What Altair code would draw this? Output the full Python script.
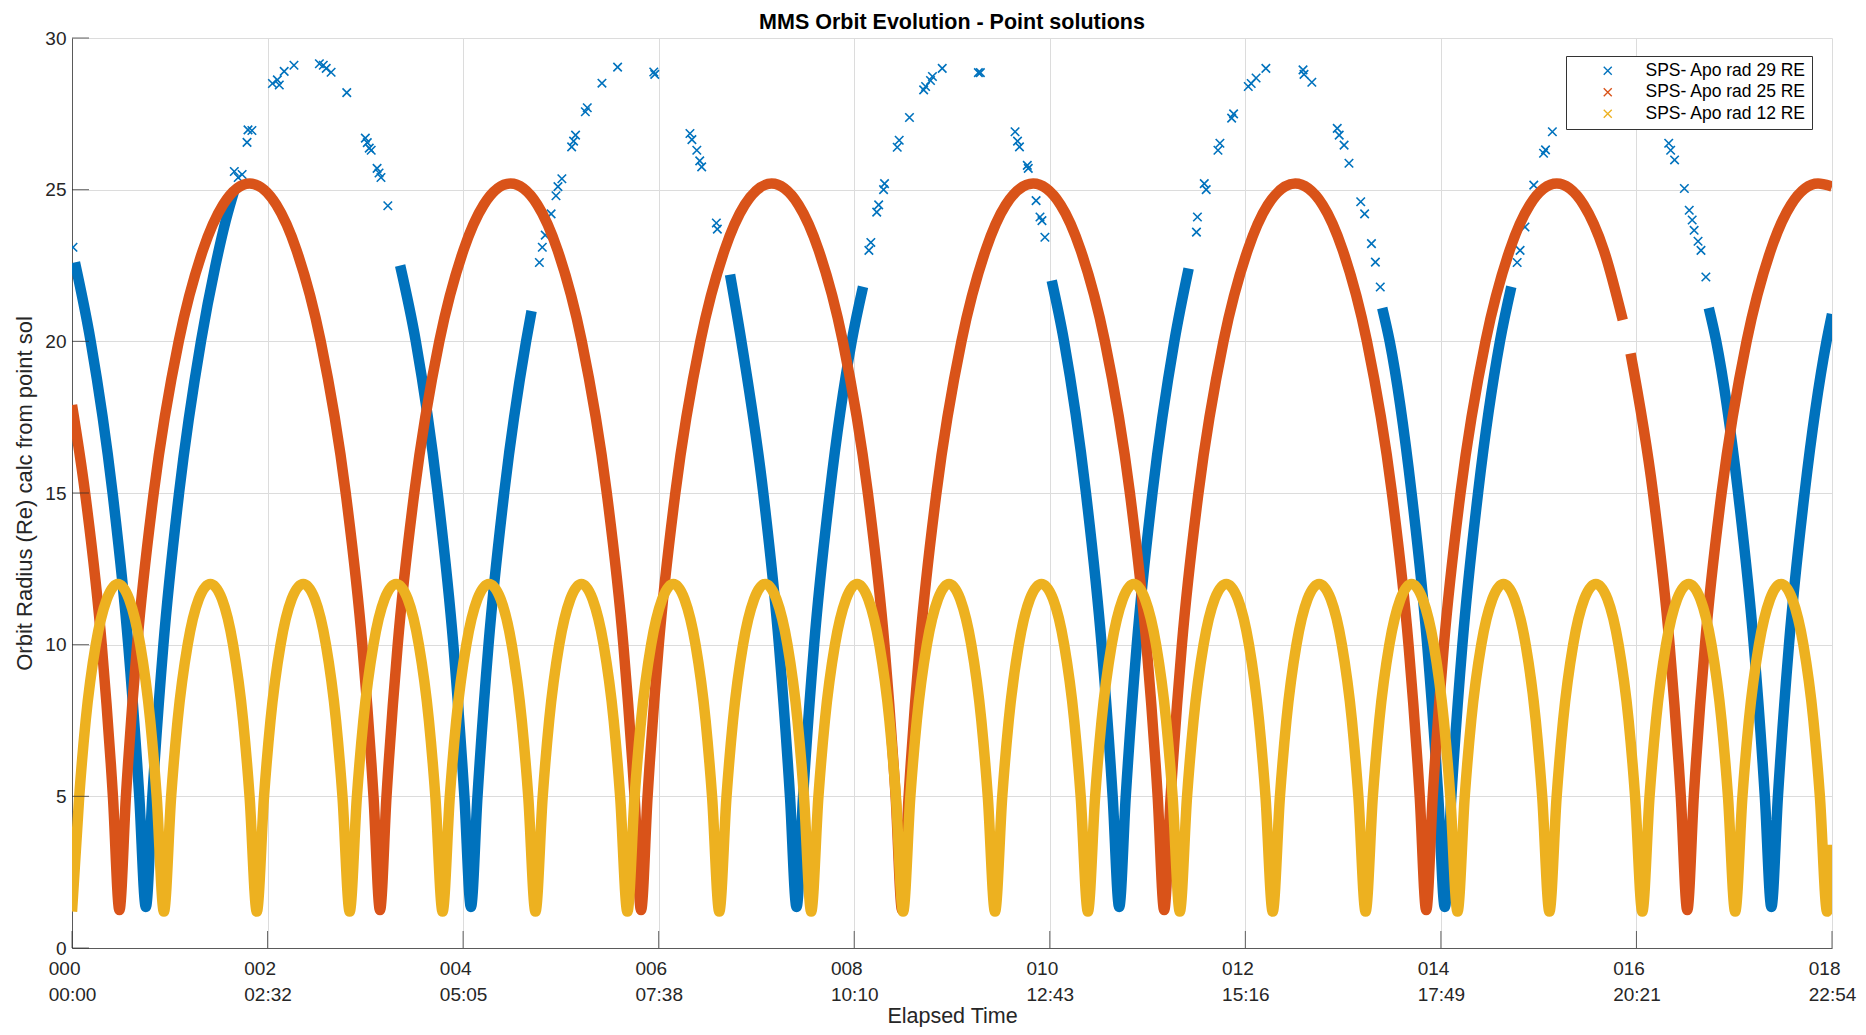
import altair as alt
import pandas as pd

FONT = "Liberation Sans"

SERIES = ["SPS- Apo rad 29 RE", "SPS- Apo rad 25 RE", "SPS- Apo rad 12 RE"]
COLORS = ["#0072BD", "#D95319", "#EDB120"]

XTICKS = [0, 2, 4, 6, 8, 10, 12, 14, 16, 18]
XTICK_ORBIT = ["000", "002", "004", "006", "008", "010", "012", "014", "016", "018"]
XTICK_TIME = ["00:00", "02:32", "05:05", "07:38", "10:10", "12:43", "15:16", "17:49", "20:21", "22:54"]
YTICKS = [0, 5, 10, 15, 20, 25, 30]

# ---- 12 RE apogee orbit (yellow) ----
YEL_X = [
    0.000, 0.074, 0.140, 0.243, 0.356, 0.470, 0.584, 0.697, 0.800, 0.866,
    0.940, 1.014, 1.080, 1.183, 1.296, 1.415, 1.534, 1.647, 1.750, 1.816,
    1.890, 1.964, 2.030, 2.133, 2.246, 2.365, 2.484, 2.597, 2.700, 2.766,
    2.840, 2.914, 2.980, 3.083, 3.196, 3.315, 3.434, 3.547, 3.650, 3.716,
    3.790, 3.864, 3.930, 4.033, 4.146, 4.265, 4.384, 4.497, 4.600, 4.666,
    4.740, 4.814, 4.880, 4.983, 5.096, 5.210, 5.324, 5.437, 5.540, 5.606,
    5.680, 5.754, 5.820, 5.923, 6.036, 6.150, 6.264, 6.377, 6.480, 6.546,
    6.620, 6.694, 6.760, 6.863, 6.976, 7.090, 7.204, 7.317, 7.420, 7.486,
    7.560, 7.634, 7.700, 7.803, 7.916, 8.030, 8.144, 8.257, 8.360, 8.426,
    8.500, 8.574, 8.640, 8.743, 8.856, 8.970, 9.084, 9.197, 9.300, 9.366,
    9.440, 9.514, 9.580, 9.683, 9.796, 9.915, 10.034, 10.147, 10.250, 10.316,
    10.390, 10.464, 10.530, 10.633, 10.746, 10.860, 10.974, 11.087, 11.190, 11.256,
    11.330, 11.404, 11.470, 11.573, 11.686, 11.805, 11.924, 12.037, 12.140, 12.206,
    12.280, 12.354, 12.420, 12.523, 12.636, 12.755, 12.874, 12.987, 13.090, 13.156,
    13.230, 13.304, 13.370, 13.473, 13.586, 13.700, 13.814, 13.927, 14.030, 14.096,
    14.170, 14.244, 14.310, 14.413, 14.526, 14.640, 14.754, 14.867, 14.970, 15.036,
    15.110, 15.184, 15.250, 15.353, 15.466, 15.585, 15.704, 15.817, 15.920, 15.986,
    16.060, 16.134, 16.200, 16.303, 16.416, 16.535, 16.654, 16.767, 16.870, 16.936,
    17.010, 17.084, 17.150, 17.253, 17.366, 17.480, 17.594, 17.707, 17.810, 17.876,
    17.950, 18.000,
]
YEL_Y = [
    1.2, 5, 7.5, 10, 11.5, 12, 11.5, 10, 7.5, 5,
    1.2, 5, 7.5, 10, 11.5, 12, 11.5, 10, 7.5, 5,
    1.2, 5, 7.5, 10, 11.5, 12, 11.5, 10, 7.5, 5,
    1.2, 5, 7.5, 10, 11.5, 12, 11.5, 10, 7.5, 5,
    1.2, 5, 7.5, 10, 11.5, 12, 11.5, 10, 7.5, 5,
    1.2, 5, 7.5, 10, 11.5, 12, 11.5, 10, 7.5, 5,
    1.2, 5, 7.5, 10, 11.5, 12, 11.5, 10, 7.5, 5,
    1.2, 5, 7.5, 10, 11.5, 12, 11.5, 10, 7.5, 5,
    1.2, 5, 7.5, 10, 11.5, 12, 11.5, 10, 7.5, 5,
    1.2, 5, 7.5, 10, 11.5, 12, 11.5, 10, 7.5, 5,
    1.2, 5, 7.5, 10, 11.5, 12, 11.5, 10, 7.5, 5,
    1.2, 5, 7.5, 10, 11.5, 12, 11.5, 10, 7.5, 5,
    1.2, 5, 7.5, 10, 11.5, 12, 11.5, 10, 7.5, 5,
    1.2, 5, 7.5, 10, 11.5, 12, 11.5, 10, 7.5, 5,
    1.2, 5, 7.5, 10, 11.5, 12, 11.5, 10, 7.5, 5,
    1.2, 5, 7.5, 10, 11.5, 12, 11.5, 10, 7.5, 5,
    1.2, 5, 7.5, 10, 11.5, 12, 11.5, 10, 7.5, 5,
    1.2, 5, 7.5, 10, 11.5, 12, 11.5, 10, 7.5, 5,
    1.2, 5, 7.5, 10, 11.5, 12, 11.5, 10, 7.5, 5,
    1.2, 3.4,
]

# ---- 25 RE apogee orbit (orange), two dense runs ----
ORG1_X = [
    0.000, 0.134, 0.304, 0.4185, 0.485,
    0.5515, 0.6662, 0.8356, 1.0915, 1.3382, 1.5449, 1.8175, 2.0901, 2.2968, 2.5435, 2.7994, 2.9688, 3.0835, 3.150,
    3.2165, 3.3312, 3.5006, 3.7565, 4.0032, 4.2099, 4.485, 4.7601, 4.9668, 5.2135, 5.4694, 5.6388, 5.7535, 5.820,
    5.8865, 6.0012, 6.1706, 6.4265, 6.6732, 6.8799, 7.155, 7.4301, 7.6368, 7.8835, 8.1394, 8.3088, 8.4235, 8.490,
    8.5565, 8.6712, 8.8406, 9.0965, 9.3432, 9.5499, 9.830, 10.1101, 10.3168, 10.5635, 10.8194, 10.9888, 11.1035, 11.170,
    11.2365, 11.3512, 11.5206, 11.7765, 12.0232, 12.2299, 12.510, 12.7901, 12.9968, 13.2435, 13.4994, 13.6688, 13.7835, 13.850,
    13.9165, 14.0312, 14.2006, 14.4565, 14.7032, 14.9099, 15.185, 15.4601, 15.6668, 15.860,
]
ORG1_Y = [
    17.9, 15, 10, 5, 1.25,
    5, 10, 15, 20, 23, 24.5, 25.2, 24.5, 23, 20, 15, 10, 5, 1.25,
    5, 10, 15, 20, 23, 24.5, 25.2, 24.5, 23, 20, 15, 10, 5, 1.25,
    5, 10, 15, 20, 23, 24.5, 25.2, 24.5, 23, 20, 15, 10, 5, 1.25,
    5, 10, 15, 20, 23, 24.5, 25.2, 24.5, 23, 20, 15, 10, 5, 1.25,
    5, 10, 15, 20, 23, 24.5, 25.2, 24.5, 23, 20, 15, 10, 5, 1.25,
    5, 10, 15, 20, 23, 24.5, 25.2, 24.5, 23, 20.7,
]
ORG2_X = [15.94, 16.1694, 16.3388, 16.4535, 16.520, 16.5865, 16.7012, 16.8706, 17.1265, 17.3732, 17.5799, 17.857, 18.0]
ORG2_Y = [19.6, 15, 10, 5, 1.25, 5, 10, 15, 20, 23, 24.5, 25.2, 25.1]

# ---- 29 RE apogee orbit (blue), dense runs ----
BLU1_X = [0.030, 0.191, 0.415, 0.575, 0.688, 0.755, 0.822, 0.935, 1.095, 1.319, 1.467, 1.574, 1.662]
BLU1_Y = [22.6, 20, 15, 10, 5, 1.35, 5, 10, 15, 20, 22.5, 24, 25]
BLU2_X = [3.356, 3.516, 3.740, 3.900, 4.013, 4.080, 4.147, 4.260, 4.420, 4.644, 4.700]
BLU2_Y = [22.5, 20, 15, 10, 5, 1.35, 5, 10, 15, 20, 21.0]
BLU3_X = [6.730, 6.846, 7.070, 7.230, 7.343, 7.410, 7.477, 7.590, 7.750, 7.974, 8.090]
BLU3_Y = [22.2, 20, 15, 10, 5, 1.35, 5, 10, 15, 20, 21.8]
BLU4_X = [10.020, 10.146, 10.370, 10.530, 10.643, 10.710, 10.777, 10.890, 11.050, 11.274, 11.420]
BLU4_Y = [22.0, 20, 15, 10, 5, 1.35, 5, 10, 15, 20, 22.4]
BLU5_X = [13.400, 13.476, 13.700, 13.860, 13.973, 14.040, 14.107, 14.220, 14.380, 14.604, 14.720]
BLU5_Y = [21.1, 20, 15, 10, 5, 1.35, 5, 10, 15, 20, 21.8]
BLU6_X = [16.740, 16.816, 17.040, 17.200, 17.313, 17.380, 17.447, 17.560, 17.720, 17.944, 18.000]
BLU6_Y = [21.1, 20, 15, 10, 5, 1.35, 5, 10, 15, 20, 20.9]

# ---- 29 RE apogee orbit (blue), sparse point solutions near apogee ----
BLU_APO1_X = [0.01, 1.66, 1.70, 1.74, 1.79, 1.80, 1.84, 2.05, 2.10, 2.12, 2.17, 2.27, 2.53, 2.57, 2.60,
              2.65, 2.81, 3.00, 3.02, 3.04, 3.06, 3.12, 3.14, 3.16, 3.23]
BLU_APO1_Y = [23.1, 25.6, 25.4, 25.5, 26.56, 26.97, 26.95, 28.5, 28.62, 28.45, 28.9, 29.1, 29.15, 29.1, 29.0,
              28.87, 28.2, 26.7, 26.55, 26.37, 26.3, 25.7, 25.55, 25.4, 24.47]
BLU_APO2_X = [4.78, 4.81, 4.84, 4.90, 4.95, 4.97, 5.01, 5.11, 5.13, 5.15, 5.25, 5.27, 5.42, 5.58, 5.95,
              5.96, 6.32, 6.34, 6.39, 6.42, 6.44, 6.59, 6.60]
BLU_APO2_Y = [22.6, 23.1, 23.5, 24.2, 24.8, 25.1, 25.36, 26.41, 26.6, 26.8, 27.57, 27.7, 28.51, 29.04, 28.88,
              28.8, 26.85, 26.65, 26.3, 25.95, 25.75, 23.9, 23.7]
BLU_APO3_X = [8.15, 8.17, 8.23, 8.25, 8.30, 8.31, 8.44, 8.46, 8.565, 8.71, 8.73, 8.78, 8.80, 8.90, 9.27,
              9.29, 9.645, 9.67, 9.69, 9.77, 9.78, 9.86, 9.90, 9.92, 9.95]
BLU_APO3_Y = [23.0, 23.26, 24.26, 24.5, 25.0, 25.2, 26.4, 26.63, 27.38, 28.29, 28.4, 28.6, 28.73, 29.0, 28.86,
              28.86, 26.91, 26.6, 26.41, 25.8, 25.7, 24.64, 24.1, 23.98, 23.43]
BLU_APO4_X = [11.50, 11.51, 11.58, 11.60, 11.72, 11.74, 11.86, 11.88, 12.03, 12.06, 12.11, 12.21, 12.59, 12.60,
              12.68, 12.94, 12.96, 13.01, 13.06, 13.18, 13.22, 13.29, 13.33, 13.38]
BLU_APO4_Y = [23.6, 24.1, 25.2, 25.0, 26.3, 26.53, 27.36, 27.5, 28.4, 28.5, 28.68, 29.0, 28.95, 28.8,
              28.54, 27.02, 26.8, 26.47, 25.87, 24.6, 24.2, 23.22, 22.61, 21.79]
BLU_APO5_X = [14.78, 14.81, 14.86, 14.95, 15.05, 15.07, 15.14, 16.33, 16.35, 16.39, 16.49, 16.54, 16.57,
              16.59, 16.63, 16.66, 16.71]
BLU_APO5_Y = [22.6, 23.0, 23.77, 25.15, 26.2, 26.31, 26.91, 26.53, 26.3, 25.98, 25.04, 24.32, 24.0,
              23.66, 23.3, 23.0, 22.12]

# ---------------- tables ----------------
runs = [
    (SERIES[0], [(BLU1_X, BLU1_Y), (BLU2_X, BLU2_Y), (BLU3_X, BLU3_Y), (BLU4_X, BLU4_Y), (BLU5_X, BLU5_Y), (BLU6_X, BLU6_Y)]),
    (SERIES[1], [(ORG1_X, ORG1_Y), (ORG2_X, ORG2_Y)]),
    (SERIES[2], [(YEL_X, YEL_Y)]),
]
rows = []
for name, segs in runs:
    for g, (xs, ys) in enumerate(segs):
        assert len(xs) == len(ys), (name, g, len(xs), len(ys))
        for i, (xv, yv) in enumerate(zip(xs, ys)):
            rows.append({"s": name, "g": f"{name}-{g}", "i": i, "x": xv, "y": yv})
lines_df = pd.DataFrame(rows)

pts = []
for xs, ys in [(BLU_APO1_X, BLU_APO1_Y), (BLU_APO2_X, BLU_APO2_Y), (BLU_APO3_X, BLU_APO3_Y),
               (BLU_APO4_X, BLU_APO4_Y), (BLU_APO5_X, BLU_APO5_Y)]:
    assert len(xs) == len(ys)
    for xv, yv in zip(xs, ys):
        pts.append({"s": SERIES[0], "x": xv, "y": yv})
pts_df = pd.DataFrame(pts)

xt_df = pd.DataFrame({"x": XTICKS, "y": [0] * len(XTICKS)})
yt_df = pd.DataFrame({"y": YTICKS, "x": [0] * len(YTICKS)})

# ---------------- encodings ----------------
XPATH = "M-1,-1L1,1M-1,1L1,-1"
xscale = alt.Scale(domain=[0, 18], nice=False, zero=False)
yscale = alt.Scale(domain=[0, 30], nice=False, zero=False)
cscale = alt.Scale(domain=SERIES, range=COLORS)

pairs = ",".join(f"['{a}','{b}']" for a, b in zip(XTICK_ORBIT, XTICK_TIME))
vals = ",".join(str(v) for v in XTICKS)
xlabel_expr = f"[{pairs}][indexof([{vals}], datum.value)]"

GRID = "#dcdcdc"
AXC = "#5a5a5a"
TXT = "#262626"

x_axis = alt.Axis(
    values=XTICKS, labelExpr=xlabel_expr, grid=True, gridColor=GRID, gridWidth=1,
    ticks=False, tickSize=0, domainColor=AXC, domainWidth=1,
    labelFont=FONT, labelFontSize=19, labelColor=TXT, labelPadding=11,
    labelBaseline="top", labelLineHeight=26, labelAlign="left", labelOffset=-23.75,
    labelFlush=False, labelOverlap=False,
    title="Elapsed Time", titleFont=FONT, titleFontSize=21.5, titleFontWeight="normal",
    titleColor=TXT, titleY=68, titleBaseline="middle",
)
y_axis = alt.Axis(
    values=YTICKS, grid=True, gridColor=GRID, gridWidth=1,
    ticks=False, tickSize=0, domainColor=AXC, domainWidth=1,
    labelFont=FONT, labelFontSize=19, labelColor=TXT, labelPadding=6, labelOverlap=False,
    title="Orbit Radius (Re) calc from point sol", titleFont=FONT, titleFontSize=22,
    titleFontWeight="normal", titleColor=TXT, titleX=-48, titleY=455, titleAngle=270,
    titleBaseline="middle", titleAlign="center",
)

LEG = alt.Legend(
    title=None, orient="none", legendX=1494, legendY=18, direction="vertical",
    padding=6, strokeColor="#333333", fillColor="#ffffff",
    labelFont=FONT, labelFontSize=17.5, labelColor="#000000", labelLimit=400,
    labelOffset=29, symbolOffset=27, symbolSize=64, symbolStrokeWidth=1.4,
    symbolType=XPATH, rowPadding=2.5,
)

X_ENC = alt.X("x:Q", scale=xscale, axis=x_axis)
Y_ENC = alt.Y("y:Q", scale=yscale, axis=y_axis)


def line_layer(k):
    return alt.Chart(lines_df).transform_filter(alt.datum.s == SERIES[k]).mark_line(
        strokeWidth=10.5, interpolate="monotone", clip=True, strokeJoin="round", strokeCap="butt"
    ).encode(x=X_ENC, y=Y_ENC, detail="g:N", order="i:Q", color=alt.value(COLORS[k]))


blue_line = line_layer(0)
blue_pts = alt.Chart(pts_df).mark_point(
    shape=XPATH, size=72, filled=False, strokeWidth=1.6, opacity=1, clip=True
).encode(x=X_ENC, y=Y_ENC, color=alt.Color("s:N", scale=cscale, legend=LEG))
orange_line = line_layer(1)
yellow_line = line_layer(2)

xticks = alt.Chart(xt_df).mark_tick(orient="vertical", size=17, thickness=1, yOffset=-8.5, color=TXT).encode(
    x=X_ENC, y=Y_ENC
)
yticks = alt.Chart(yt_df).mark_tick(orient="horizontal", size=17, thickness=1, xOffset=8.5, color=TXT).encode(
    x=X_ENC, y=Y_ENC
)

TITLE = alt.TitleParams(
    text="MMS Orbit Evolution - Point solutions", font=FONT, fontSize=21.5, fontWeight="bold",
    color="#000000", anchor="middle", offset=0, dy=4,
)

chart = alt.layer(blue_pts, blue_line, orange_line, yellow_line, xticks, yticks).properties(
    width=1760, height=910, title=TITLE,
    padding={"left": 64, "top": 30, "right": 26, "bottom": 79},
    autosize=alt.AutoSizeParams(type="none"),
    background="#ffffff",
).configure_view(stroke=None)

chart.save("out.html", embed_options={"renderer": "svg", "actions": False})
